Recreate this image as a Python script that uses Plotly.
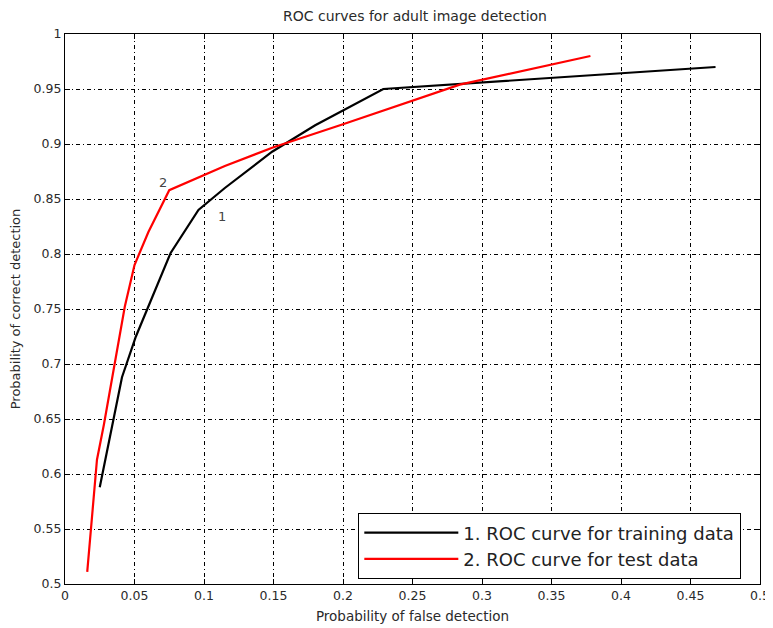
import plotly.graph_objects as go

train_fpr = [0.025, 0.041, 0.051, 0.076, 0.096, 0.115, 0.149, 0.18, 0.229, 0.468]
train_tpr = [0.588, 0.688, 0.725, 0.801, 0.840, 0.860, 0.893, 0.917, 0.950, 0.970]

test_fpr = [0.016, 0.023, 0.028, 0.043, 0.050, 0.060, 0.075, 0.115, 0.150, 0.200, 0.284, 0.378]
test_tpr = [0.511, 0.613, 0.645, 0.752, 0.790, 0.820, 0.858, 0.880, 0.897, 0.918, 0.954, 0.980]

x_ticks = [0, 0.05, 0.1, 0.15, 0.2, 0.25, 0.3, 0.35, 0.4, 0.45, 0.5]
x_labels = ["0", "0.05", "0.1", "0.15", "0.2", "0.25", "0.3", "0.35", "0.4", "0.45", "0.5"]
y_ticks = [0.5, 0.55, 0.6, 0.65, 0.7, 0.75, 0.8, 0.85, 0.9, 0.95, 1]
y_labels = ["0.5", "0.55", "0.6", "0.65", "0.7", "0.75", "0.8", "0.85", "0.9", "0.95", "1"]

font = "DejaVu Sans, Verdana, sans-serif"
tc = "#2a2a2a"

fig = go.Figure()
fig.add_trace(go.Scatter(x=train_fpr, y=train_tpr, mode="lines",
                         line=dict(color="black", width=2.2),
                         name="1. ROC curve for training data"))
fig.add_trace(go.Scatter(x=test_fpr, y=test_tpr, mode="lines",
                         line=dict(color="#ff0000", width=2.2),
                         name="2. ROC curve for test data"))

fig.add_annotation(x=0.0707, y=0.8648, text="2", showarrow=False,
                   font=dict(family=font, size=13, color="#444"))
fig.add_annotation(x=0.113, y=0.8345, text="1", showarrow=False,
                   font=dict(family=font, size=13, color="#444"))

axis_common = dict(showline=True, linecolor="black", linewidth=1.3, mirror="ticks",
                   ticks="inside", ticklen=5, tickcolor="black", tickwidth=1.3,
                   showgrid=True, gridcolor="black", gridwidth=1,
                   griddash="4px,3px,1px,3px", zeroline=False, automargin=False,
                   tickfont=dict(family=font, size=12.5, color=tc))

fig.update_xaxes(range=[0, 0.5], tickvals=x_ticks, ticktext=x_labels,
                 title=dict(text="Probability of false detection", standoff=9,
                            font=dict(family=font, size=13.5, color=tc)),
                 **axis_common)
fig.update_yaxes(range=[0.5, 1], tickvals=y_ticks, ticktext=y_labels,
                 title=dict(text="Probability of correct detection", standoff=9,
                            font=dict(family=font, size=13, color=tc)),
                 **axis_common)

fig.update_layout(
    width=765, height=620,
    margin=dict(l=57, r=13, t=26, b=44),
    paper_bgcolor="white", plot_bgcolor="white",
    title=dict(text="ROC curves for adult image detection", x=0.532, xanchor="center",
               y=0.987, yanchor="middle",
               font=dict(family=font, size=14, color=tc)),
    showlegend=True,
    legend=dict(x=0.4216, y=0.129, xanchor="left", yanchor="top",
                bgcolor="white", bordercolor="black", borderwidth=1.3,
                font=dict(family=font, size=18, color="#222"),
                itemwidth=94, tracegroupgap=0),
)

fig.write_html("out.html")
